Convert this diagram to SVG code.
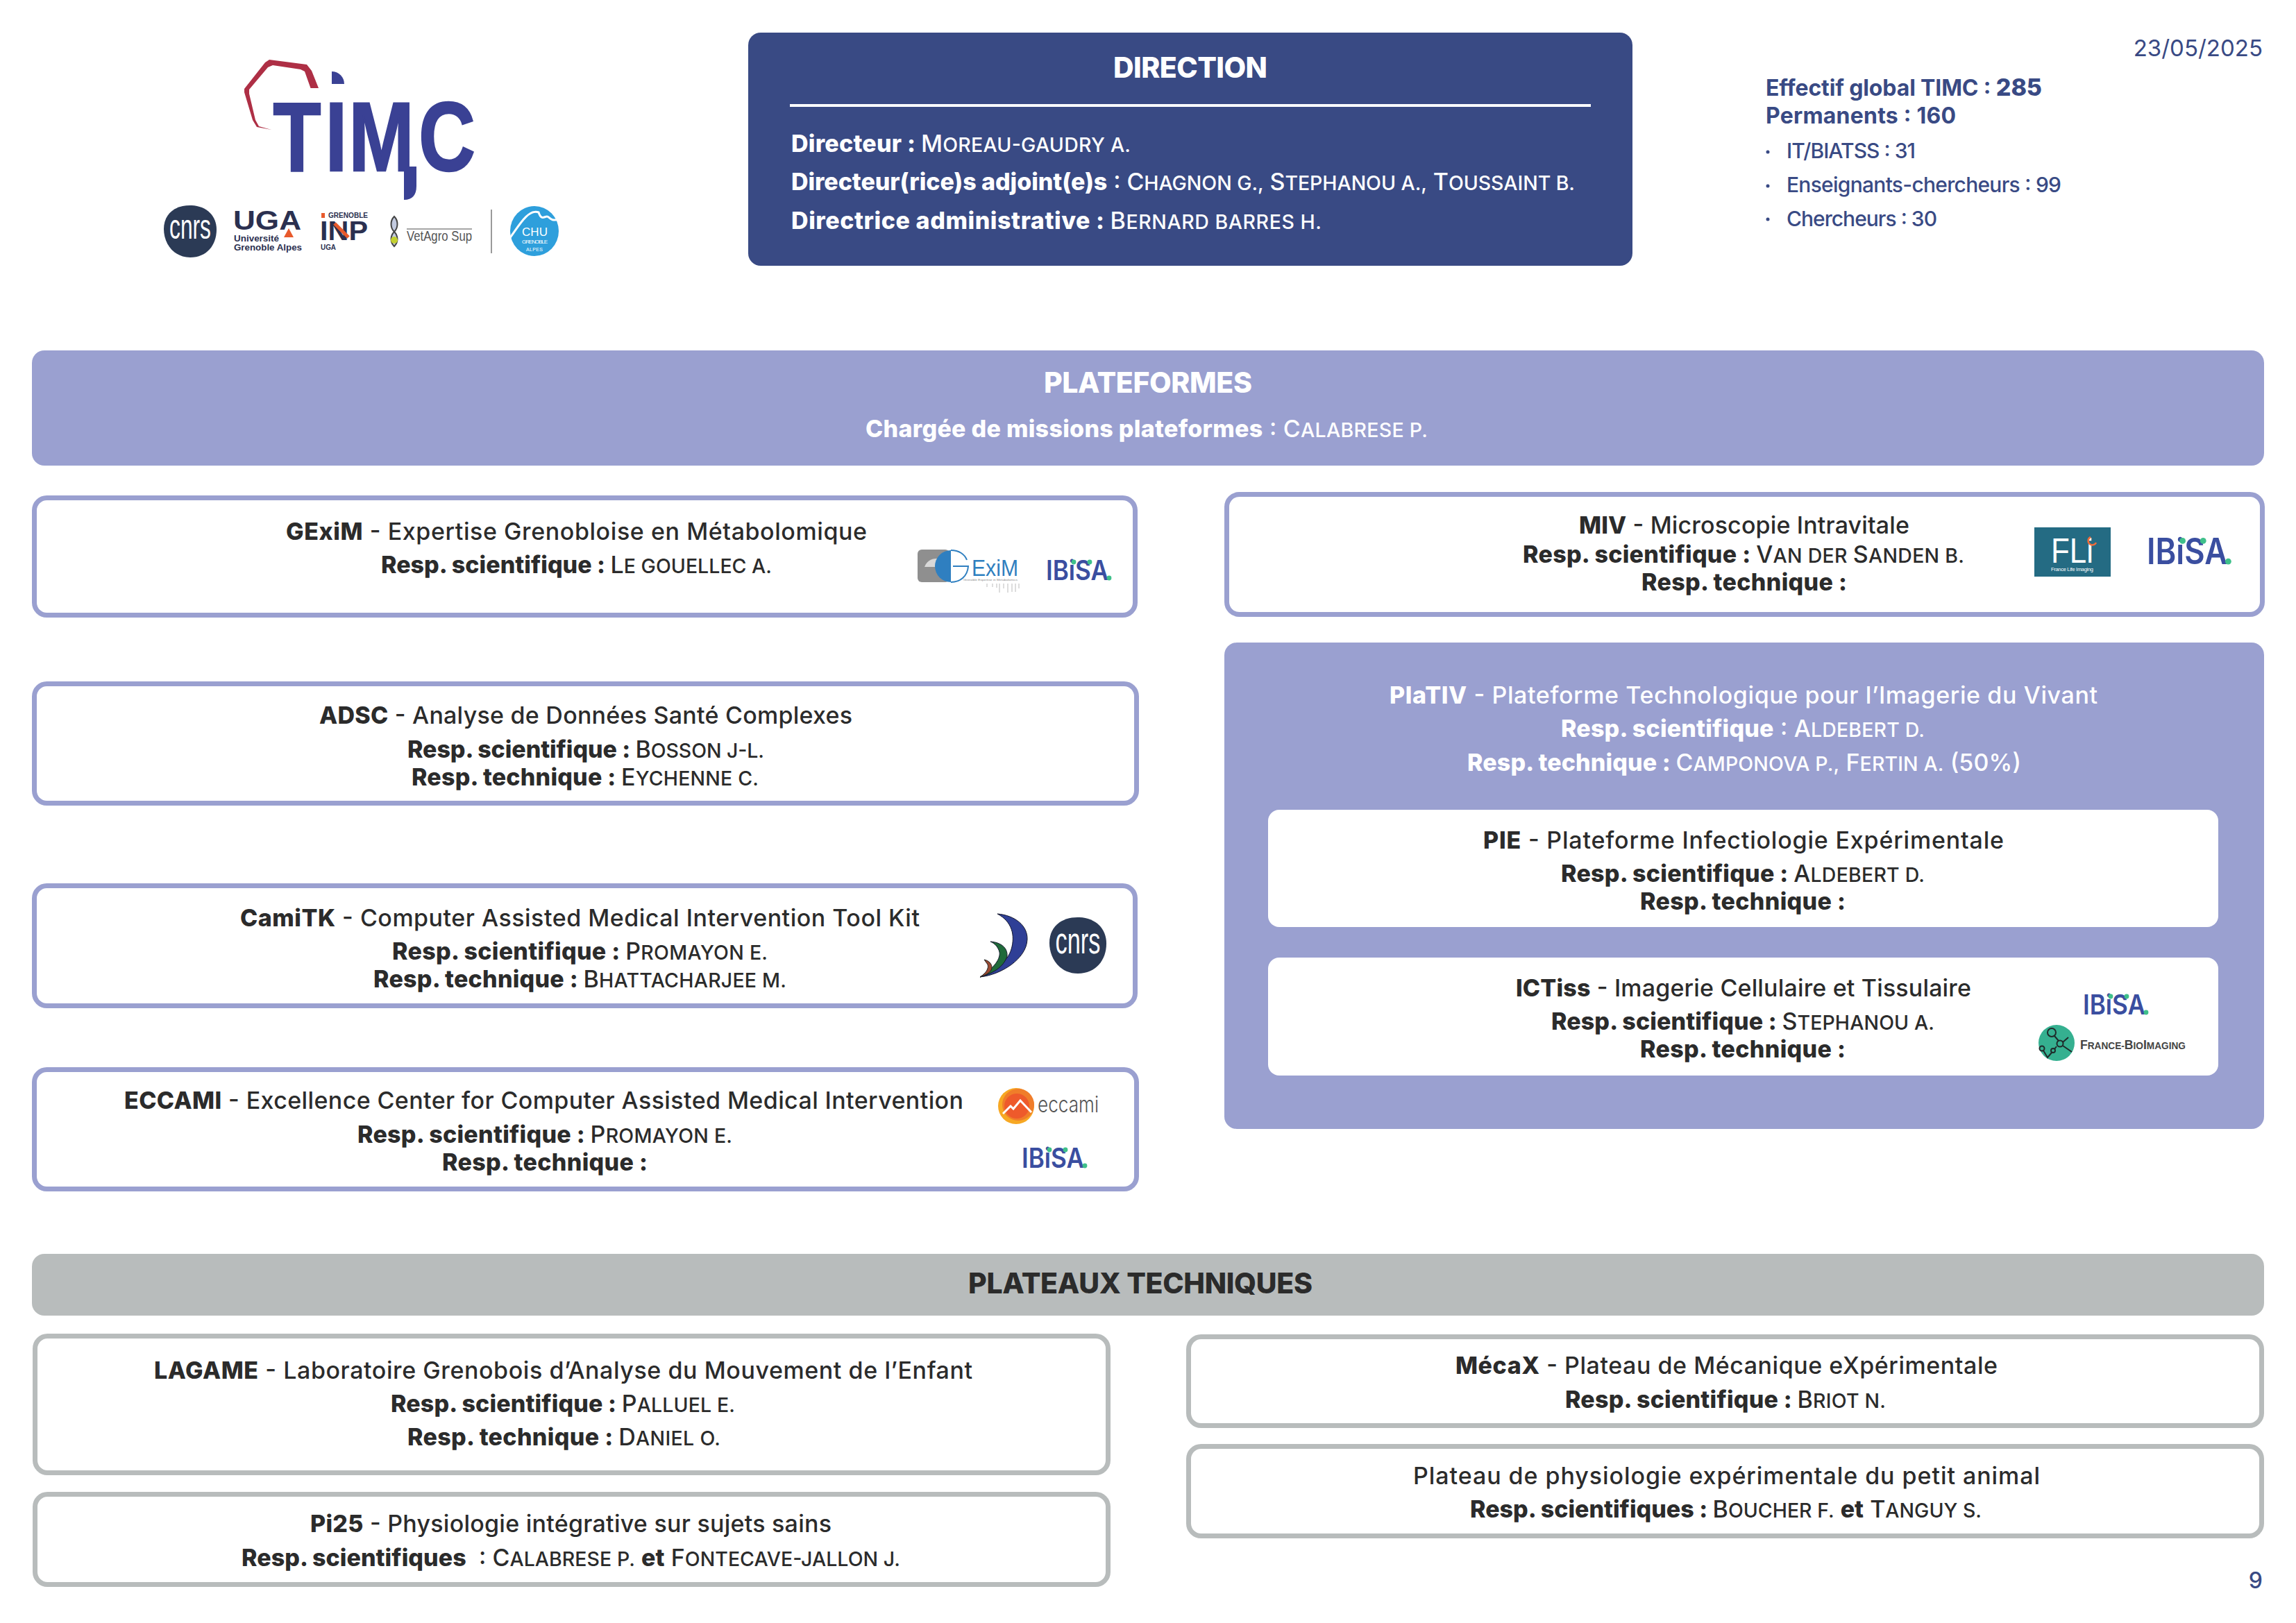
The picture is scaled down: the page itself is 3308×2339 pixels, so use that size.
<svg xmlns="http://www.w3.org/2000/svg" xmlns:xlink="http://www.w3.org/1999/xlink" width="3308" height="2339" viewBox="0 0 3308 2339">
<style>
text{font-family:"Inter","Liberation Sans",sans-serif;}
.t{font-size:34px;font-weight:500;fill:#2b2b2b;}
.w{fill:#fff;}
.b{font-weight:800;font-size:34px;}
.s{font-size:28.500px;}
.h{font-weight:800;font-size:41px;}
.box{fill:#fff;stroke:#9aa0d0;stroke-width:7;}
.gbox{fill:#fff;stroke:#b8bcbc;stroke-width:7;}
.inner{fill:#fff;}
.n{fill:#394a84;}
.nl{font-size:30px;font-weight:500;fill:#394a84;}
.logo{font-family:"Liberation Sans",sans-serif;}
</style>
<defs>
<g id="ibisa">
<text x="0" y="0" style="font-size:40px;font-weight:600" fill="#3a4ea0" textLength="90" lengthAdjust="spacingAndGlyphs">IBiSA</text>
<circle cx="40" cy="-26" r="3.400" fill="#3fc08a"/><circle cx="63" cy="-26" r="3.400" fill="#3fc08a"/><circle cx="91" cy="-3" r="3.400" fill="#3fc08a"/>
</g>
<g id="cnrs">
<path d="M-38 -3C-38 -26-20-38 2-37C24-36 38-22 38 -2C38 20 24 38 0 38C-24 38-38 18-38 -3Z" fill="#2b3a55"/>
<text x="-30" y="11" class="logo" style="font-size:50px" fill="#fff" textLength="60" lengthAdjust="spacingAndGlyphs">cnrs</text>
</g>
</defs>

<g id="logos-timc">
<path d="M391 187L370 183L364 173L352 133L352 128L382 90L388 86L442 93L449 102L459 127L447.500 127L439 103L433 100L393 94L386 97L359 129L359 135L368 173L373 182Z" fill="#ae2f45"/>
<g fill="#3a4194" stroke="#3a4194">
<text class="logo" transform="translate(0,246) scale(.8,1)" style="font-size:141px;font-weight:700;stroke-width:2.500px" x="492 586 628 754">TIMC</text>
<path d="M478 103A18 18 0 0 1 496 121H478Z" stroke="none"/>
<path d="M582 240H600V268Q600 288 582 288Z" stroke="none"/>
</g>
<use xlink:href="#cnrs" href="#cnrs" transform="translate(274,333)"/>
<g id="logo-uga">
<text x="336" y="331" class="logo" style="font-size:38px;font-weight:700" fill="#2b3050" textLength="98" lengthAdjust="spacingAndGlyphs">UGA</text>
<path d="M416 329L423 342H409Z" fill="#e85a2c"/>
<text x="337" y="348" class="logo" style="font-size:12px;font-weight:700" fill="#2b3050" textLength="65" lengthAdjust="spacingAndGlyphs">Université</text>
<text x="337" y="361" class="logo" style="font-size:12px;font-weight:700" fill="#2b3050" textLength="98" lengthAdjust="spacingAndGlyphs">Grenoble Alpes</text>
</g>
<g id="logo-inp">
<rect x="463" y="307" width="5" height="7" fill="#e85a2c"/>
<text x="473" y="314" class="logo" style="font-size:11px;font-weight:700" fill="#2b3050" textLength="57" lengthAdjust="spacingAndGlyphs">GRENOBLE</text>
<text x="461" y="346" class="logo" style="font-size:38px;font-weight:700" fill="#2b3050" textLength="69" lengthAdjust="spacingAndGlyphs">INP</text>
<path d="M482 322L502 342" stroke="#e85a2c" stroke-width="5" fill="none"/>
<text x="462" y="360" class="logo" style="font-size:11px;font-weight:700" fill="#2b3050" textLength="22" lengthAdjust="spacingAndGlyphs">UGA</text>
</g>
<g id="logo-vetagro">
<path d="M568 312C562 318 562 328 568 334C574 340 574 349 568 355C562 349 562 340 568 334C574 328 574 318 568 312Z" fill="#c3cbe0" stroke="#444" stroke-width="2"/>
<circle cx="568" cy="346" r="5" fill="#c3d02f"/>
<path d="M586 330H680" stroke="#888" stroke-width="1.500"/>
<text x="586" y="347" class="logo" style="font-size:21px" fill="#555" textLength="94" lengthAdjust="spacingAndGlyphs">VetAgro Sup</text>
</g>
<path d="M708 302V365" stroke="#9a9a9a" stroke-width="2"/>
<g id="logo-chu">
<ellipse cx="770" cy="333" rx="35" ry="36" fill="#2e9fdc"/>
<path d="M733 345C745 330 760 300 776 306C780 318 784 312 788 312C792 312 792 320 807 316" fill="none" stroke="#fff" stroke-width="3"/>
<text x="752" y="340" class="logo" style="font-size:17px" fill="#fff" textLength="37">CHU</text>
<text x="752" y="351" class="logo" style="font-size:8px" fill="#fff" textLength="37">GRENOBLE</text>
<text x="758" y="362" class="logo" style="font-size:7px" fill="#fff" textLength="24">ALPES</text>
</g>
</g>

<g id="direction">
<rect x="1078" y="47" width="1274" height="336" rx="18" fill="#394a84"/>
<text x="1604" y="112" class="t w h" textLength="222">DIRECTION</text>
<rect x="1138" y="150" width="1154" height="4" fill="#fff"/>
<text x="1140" y="219" class="t w" textLength="489"><tspan class="b">Directeur : </tspan>M<tspan class="s">OREAU-GAUDRY A.</tspan></text>
<text x="1140" y="274" class="t w" textLength="1129"><tspan class="b">Directeur(rice)s adjoint(e)s</tspan> : C<tspan class="s">HAGNON G.,</tspan> S<tspan class="s">TEPHANOU A.,</tspan> T<tspan class="s">OUSSAINT B.</tspan></text>
<text x="1140" y="330" class="t w" textLength="764"><tspan class="b">Directrice administrative : </tspan>B<tspan class="s">ERNARD BARRES H.</tspan></text>
</g>

<g id="effectif">
<text x="3260" y="81" text-anchor="end" class="n" style="font-size:33px;font-weight:400">23/05/2025</text>
<text x="2544" y="138" class="n" style="font-size:32px;font-weight:700" textLength="398">Effectif global TIMC : <tspan style="font-weight:800;font-size:34px">285</tspan></text>
<text x="2544" y="178" class="n" style="font-size:32px;font-weight:700" textLength="274">Permanents : 160</text>
<circle cx="2547" cy="219" r="2.500" class="n"/><circle cx="2547" cy="268" r="2.500" class="n"/><circle cx="2547" cy="316" r="2.500" class="n"/>
<text x="2574" y="228" class="nl" textLength="186">IT/BIATSS : 31</text>
<text x="2574" y="277" class="nl" textLength="396">Enseignants-chercheurs : 99</text>
<text x="2574" y="326" class="nl" textLength="217">Chercheurs : 30</text>
</g>

<g id="plateformes">
<rect x="46" y="505" width="3216" height="166" rx="18" fill="#9aa0d0"/>
<text x="1504" y="566" class="t w h" textLength="300">PLATEFORMES</text>
<text x="1247" y="630" class="t w" textLength="810"><tspan class="b">Chargée de missions plateformes</tspan> : C<tspan class="s">ALABRESE P.</tspan></text>
</g>

<g id="gexim">
<rect x="49.500" y="717.500" width="1586" height="169" rx="18" class="box"/>
<text x="412" y="778" class="t" textLength="837"><tspan class="b">GExiM</tspan> - Expertise Grenobloise en Métabolomique</text>
<text x="549" y="826" class="t" textLength="563"><tspan class="b">Resp. scientifique : </tspan>L<tspan class="s">E GOUELLEC A.</tspan></text>
<rect x="1322" y="792" width="46" height="47" rx="6" fill="#8f8f8f"/>
<path d="M1332 817A18 18 0 0 1 1366 817Z" fill="#d8d8d8"/>
<path d="M1370 793A23 23 0 0 0 1370 839Z" fill="#2f7fc0"/>
<path d="M1370 793C1382 793 1390 799 1393 807M1373 816H1395C1394 830 1384 839 1370 839" fill="none" stroke="#2f7fc0" stroke-width="2"/>
<text x="1400" y="830" class="logo" style="font-size:33px" fill="#2f7fc0" textLength="67" lengthAdjust="spacingAndGlyphs">ExiM</text>
<text x="1388" y="837" class="logo" style="font-size:4px" fill="#888" textLength="78" lengthAdjust="spacingAndGlyphs">Grenoble Expertise in Metabolomics</text>
<path d="M1422 841V846M1430 841V846M1436 841V847M1440 841V854M1446 841V848M1452 841V854M1458 841V853M1463 841V853M1468 841V848" stroke="#bbb" stroke-width="1"/>
<use xlink:href="#ibisa" href="#ibisa" transform="translate(1507,836)"/>
</g>

<g id="adsc">
<rect x="49.500" y="985.500" width="1588" height="172" rx="18" class="box"/>
<text x="460" y="1043" class="t" textLength="768"><tspan class="b">ADSC</tspan> - Analyse de Données Santé Complexes</text>
<text x="587" y="1092" class="t" textLength="514"><tspan class="b">Resp. scientifique : </tspan>B<tspan class="s">OSSON J-L.</tspan></text>
<text x="593" y="1132" class="t" textLength="500"><tspan class="b">Resp. technique : </tspan>E<tspan class="s">YCHENNE C.</tspan></text>
</g>

<g id="camitk">
<rect x="49.500" y="1276.500" width="1586" height="173" rx="18" class="box"/>
<text x="346" y="1335" class="t" textLength="979"><tspan class="b">CamiTK</tspan> - Computer Assisted Medical Intervention Tool Kit</text>
<text x="565" y="1383" class="t" textLength="541"><tspan class="b">Resp. scientifique : </tspan>P<tspan class="s">ROMAYON E.</tspan></text>
<text x="538" y="1423" class="t" textLength="595"><tspan class="b">Resp. technique : </tspan>B<tspan class="s">HATTACHARJEE M.</tspan></text>
<path d="M1437 1317C1462 1319 1481 1334 1480 1354C1479 1382 1442 1405 1412 1408C1434 1400 1452 1385 1457 1368C1463 1348 1458 1328 1437 1317Z" fill="#2f3f96" stroke="#15182c" stroke-width="1"/>
<path d="M1427 1357C1442 1358 1452 1366 1451 1378C1446 1394 1430 1403 1412 1408C1428 1398 1442 1384 1440 1372C1438 1365 1434 1360 1427 1357Z" fill="#1f6a3a" stroke="#15182c" stroke-width="1"/>
<path d="M1418 1383C1427 1385 1431 1392 1428 1398C1425 1403 1418 1406 1412 1408C1420 1403 1425 1396 1423 1390Z" fill="#9a4a32" stroke="#222" stroke-width="1"/>
<use xlink:href="#cnrs" href="#cnrs" transform="translate(1553,1362) scale(1.080)"/>
</g>

<g id="eccami">
<rect x="49.500" y="1541.500" width="1588" height="172" rx="18" class="box"/>
<text x="179" y="1598" class="t" textLength="1209"><tspan class="b">ECCAMI</tspan> - Excellence Center for Computer Assisted Medical Intervention</text>
<text x="515" y="1647" class="t" textLength="540"><tspan class="b">Resp. scientifique : </tspan>P<tspan class="s">ROMAYON E.</tspan></text>
<text x="637" y="1687" class="t b" textLength="296">Resp. technique :</text>
<circle cx="1464" cy="1594" r="26" fill="#f7a823"/>
<circle cx="1467" cy="1592" r="23" fill="#f07d2a"/>
<circle cx="1465" cy="1594" r="18" fill="#ee5a2b"/>
<path d="M1445 1605L1456 1594L1460 1598L1470 1586L1486 1603" fill="none" stroke="#fff" stroke-width="3"/>
<text x="1495" y="1603" style="font-size:32px;font-weight:300" fill="#555" textLength="88" lengthAdjust="spacingAndGlyphs">eccami</text>
<use xlink:href="#ibisa" href="#ibisa" transform="translate(1472,1683)"/>
</g>

<g id="miv">
<rect x="1767.500" y="712.500" width="1492" height="173" rx="18" class="box"/>
<text x="2275" y="769" class="t" textLength="476"><tspan class="b">MIV</tspan> - Microscopie Intravitale</text>
<text x="2194" y="811" class="t" textLength="636"><tspan class="b">Resp. scientifique : </tspan>V<tspan class="s">AN DER </tspan>S<tspan class="s">ANDEN B.</tspan></text>
<text x="2365" y="851" class="t b" textLength="296">Resp. technique :</text>
<rect x="2931" y="760" width="110" height="71" fill="#246b83"/>
<text x="2955" y="811" class="logo" style="font-size:50px" fill="#fff" textLength="61" lengthAdjust="spacingAndGlyphs">FLi</text>
<path d="M3012 774A6 6 0 1 0 3020 782" fill="none" stroke="#ee6c3a" stroke-width="2.500"/>
<text x="2955" y="823" class="logo" style="font-size:7.500px" fill="#fff" textLength="61">France Life Imaging</text>
<use xlink:href="#ibisa" href="#ibisa" transform="translate(3093,813) scale(1.290)"/>
</g>

<g id="plativ">
<rect x="1764" y="926" width="1498" height="701" rx="18" fill="#9aa0d0"/>
<text x="2002" y="1014" class="t w" textLength="1020"><tspan class="b">PlaTIV</tspan> - Plateforme Technologique pour l’Imagerie du Vivant</text>
<text x="2249" y="1062" class="t w" textLength="524"><tspan class="b">Resp. scientifique</tspan> : A<tspan class="s">LDEBERT D.</tspan></text>
<text x="2114" y="1111" class="t w" textLength="798"><tspan class="b">Resp. technique : </tspan>C<tspan class="s">AMPONOVA P.,</tspan> F<tspan class="s">ERTIN A.</tspan> (50%)</text>
</g>

<g id="pie">
<rect x="1827" y="1167" width="1369" height="169" rx="16" class="inner"/>
<text x="2137" y="1223" class="t" textLength="750"><tspan class="b">PIE</tspan> - Plateforme Infectiologie Expérimentale</text>
<text x="2249" y="1271" class="t" textLength="524"><tspan class="b">Resp. scientifique : </tspan>A<tspan class="s">LDEBERT D.</tspan></text>
<text x="2363" y="1311" class="t b" textLength="296">Resp. technique :</text>
</g>

<g id="ictiss">
<rect x="1827" y="1380" width="1369" height="170" rx="16" class="inner"/>
<text x="2184" y="1436" class="t" textLength="656"><tspan class="b">ICTiss</tspan> - Imagerie Cellulaire et Tissulaire</text>
<text x="2235" y="1484" class="t" textLength="552"><tspan class="b">Resp. scientifique : </tspan>S<tspan class="s">TEPHANOU A.</tspan></text>
<text x="2363" y="1524" class="t b" textLength="296">Resp. technique :</text>
<use xlink:href="#ibisa" href="#ibisa" transform="translate(3001,1462)"/>
<circle cx="2963" cy="1503" r="26" fill="#35b090"/>
<g fill="none" stroke="#1f2a2a" stroke-width="2">
<circle cx="2956" cy="1488" r="6"/><circle cx="2968" cy="1504" r="4.500"/><circle cx="2958" cy="1514" r="3"/><circle cx="2942" cy="1511" r="3.500"/>
<path d="M2960 1493L2966 1500M2972 1502L2980 1495M2972 1507L2985 1516M2963 1508L2960 1512M2956 1517L2950 1524L2944 1514"/>
</g>
<text x="2997" y="1512" class="logo" style="font-size:18px;font-weight:700" fill="#444" textLength="152" lengthAdjust="spacingAndGlyphs">F<tspan style="font-size:14px">RANCE-</tspan>B<tspan style="font-size:14px">IO</tspan>I<tspan style="font-size:14px">MAGING</tspan></text>
</g>

<g id="plateaux-techniques">
<rect x="46" y="1807" width="3216" height="89" rx="18" fill="#b8bcbc"/>
<text x="1395" y="1864" class="t h" textLength="496">PLATEAUX TECHNIQUES</text>
</g>

<g id="lagame">
<rect x="50.500" y="1925.500" width="1546" height="197" rx="18" class="gbox"/>
<text x="222" y="1987" class="t" textLength="1179"><tspan class="b">LAGAME</tspan> - Laboratoire Grenobois d’Analyse du Mouvement de l’Enfant</text>
<text x="563" y="2035" class="t" textLength="496"><tspan class="b">Resp. scientifique : </tspan>P<tspan class="s">ALLUEL E.</tspan></text>
<text x="587" y="2083" class="t" textLength="451"><tspan class="b">Resp. technique : </tspan>D<tspan class="s">ANIEL O.</tspan></text>
</g>

<g id="pi25">
<rect x="50.500" y="2153.500" width="1546" height="130" rx="18" class="gbox"/>
<text x="447" y="2208" class="t" textLength="751"><tspan class="b">Pi25</tspan> - Physiologie intégrative sur sujets sains</text>
<text x="348" y="2257" class="t" textLength="949" xml:space="preserve"><tspan class="b">Resp. scientifiques</tspan>  : C<tspan class="s">ALABRESE P.</tspan> <tspan class="b">et</tspan> F<tspan class="s">ONTECAVE-JALLON J.</tspan></text>
</g>

<g id="mecax">
<rect x="1712.500" y="1926.500" width="1546" height="128" rx="18" class="gbox"/>
<text x="2097" y="1980" class="t" textLength="781"><tspan class="b">MécaX</tspan> - Plateau de Mécanique eXpérimentale</text>
<text x="2255" y="2029" class="t" textLength="462"><tspan class="b">Resp. scientifique : </tspan>B<tspan class="s">RIOT N.</tspan></text>
</g>

<g id="physio">
<rect x="1712.500" y="2084.500" width="1546" height="129" rx="18" class="gbox"/>
<text x="2036" y="2139" class="t" textLength="903">Plateau de physiologie expérimentale du petit animal</text>
<text x="2118" y="2187" class="t" textLength="737"><tspan class="b">Resp. scientifiques : </tspan>B<tspan class="s">OUCHER F.</tspan> <tspan class="b">et</tspan> T<tspan class="s">ANGUY S.</tspan></text>
</g>

<text id="page" x="3260" y="2289" text-anchor="end" class="nl" style="font-size:32px">9</text>
</svg>
